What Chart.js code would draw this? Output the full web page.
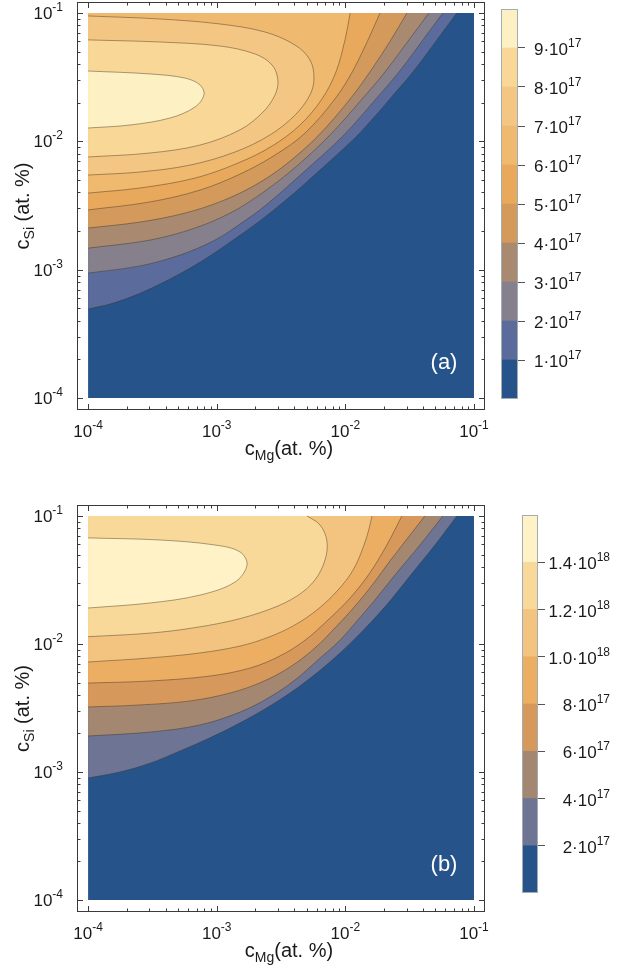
<!DOCTYPE html>
<html><head><meta charset="utf-8">
<script src="https://cdn.jsdelivr.net/npm/chart.js@4.4.1/dist/chart.umd.min.js"></script>
<style>
html,body{margin:0;padding:0;background:#fff;}
#wrap{position:relative;width:617px;height:969px;overflow:hidden;}
canvas{position:absolute;}
</style></head><body>
<div id="wrap">
<canvas id="pa" width="617" height="470" style="left:0;top:0"></canvas>
<canvas id="ca" width="127" height="420" style="left:490px;top:0"></canvas>
<canvas id="pb" width="617" height="469" style="left:0;top:503px"></canvas>
<canvas id="cb" width="107" height="420" style="left:510px;top:503px"></canvas>
</div>
<script>
// ---------- axis ticks ----------
const majorTicks = [1e-4, 1e-3, 1e-2, 1e-1];
const majorTickBase = '10';
const majorTickExp = ['-4', '-3', '-2', '-1'];
const minorMantissas = [2, 3, 4, 5, 6, 7, 8, 9];

// ---------- panel (a): levels in units of 1e17 ----------
const levelsA = [1, 2, 3, 4, 5, 6, 7, 8, 9];
const levelMantA = ['1·10', '2·10', '3·10', '4·10', '5·10', '6·10', '7·10', '8·10', '9·10'];
const levelExpA = ['17', '17', '17', '17', '17', '17', '17', '17', '17'];
const bandColorsA = ['#26548a', '#5b6c9c', '#85808c', '#a98a70', '#d39a5c', '#e9a95c', '#efb96f', '#f4c683', '#f8d797', '#fdf0c3'];
// contour lines [cMg, cSi] (at. %), ordered by cSi
const a1 = [[1e-4,4.93e-4],[1.48e-4,5.39e-4],[2.24e-4,6.22e-4],[3.50e-4,7.59e-4],[5.47e-4,9.58e-4],[8.55e-4,1.25e-3],[1.34e-3,1.70e-3],[2.06e-3,2.31e-3],[3.10e-3,3.19e-3],[4.44e-3,4.33e-3],[6.35e-3,5.97e-3],[9.08e-3,8.26e-3],[1.23e-2,1.10e-2],[1.70e-2,1.57e-2],[2.22e-2,2.14e-2],[3.35e-2,3.47e-2],[5.15e-2,6.17e-2],[7.36e-2,0.1]];
const a2 = [[1e-4,9.40e-4],[2.54e-4,1.07e-3],[5.19e-4,1.30e-3],[9.70e-4,1.70e-3],[1.60e-3,2.35e-3],[2.42e-3,3.19e-3],[4.94e-3,5.97e-3],[9.57e-3,1.10e-2],[1.73e-2,2.14e-2],[2.61e-2,3.47e-2],[4.01e-2,6.17e-2],[5.73e-2,0.1]];
const a3 = [[1e-4,1.47e-3],[3.03e-4,1.70e-3],[6.78e-4,2.11e-3],[1.27e-3,2.76e-3],[2.09e-3,3.75e-3],[3.85e-3,5.97e-3],[7.46e-3,1.10e-2],[1.35e-2,2.14e-2],[2.03e-2,3.47e-2],[3.12e-2,6.17e-2],[4.46e-2,0.1]];
const a4 = [[1e-4,2.11e-3],[2.54e-4,2.35e-3],[5.67e-4,2.76e-3],[1.10e-3,3.43e-3],[1.99e-3,4.56e-3],[3.40e-3,6.53e-3],[6.12e-3,1.10e-2],[1.09e-2,2.14e-2],[1.55e-2,3.47e-2],[2.26e-2,6.17e-2],[3.01e-2,0.1]];
const a5 = [[1e-4,2.92e-3],[3.03e-4,3.37e-3],[7.41e-4,4.17e-3],[1.52e-3,5.56e-3],[2.84e-3,7.82e-3],[4.86e-3,1.16e-2],[8.30e-3,2.14e-2],[1.13e-2,3.47e-2],[1.50e-2,6.17e-2],[1.86e-2,0.1]];
const a6 = [[1e-4,3.95e-3],[2.54e-4,4.33e-3],[6.78e-4,5.17e-3],[1.47e-3,6.78e-3],[2.69e-3,9.18e-3],[4.44e-3,1.34e-2],[6.58e-3,2.14e-2],[8.45e-3,3.47e-2],[9.93e-3,6.17e-2],[1.09e-2,0.1]];
const a7 = [[1e-4,5.46e-3],[2.54e-4,5.77e-3],[6.21e-4,6.53e-3],[1.39e-3,8.26e-3],[2.59e-3,1.12e-2],[4.06e-3,1.60e-2],[5.31e-3,2.30e-2],[5.70e-3,3.11e-2],[5.31e-3,4.31e-2],[4.06e-3,5.63e-2],[2.37e-3,7.11e-2],[1.06e-3,8.21e-2],[3.62e-4,8.98e-2],[1e-4,9.48e-2]];
const a8 = [[1e-4,7.55e-3],[3.03e-4,8.11e-3],[7.41e-4,9.35e-3],[1.52e-3,1.23e-2],[2.29e-3,1.69e-2],[2.84e-3,2.30e-2],[2.99e-3,3.01e-2],[2.69e-3,3.94e-2],[1.99e-3,4.79e-2],[1.06e-3,5.53e-2],[3.62e-4,5.94e-2],[1e-4,6.17e-2]];
const a9 = [[1e-4,1.27e-2],[2.12e-4,1.34e-2],[4.34e-4,1.52e-2],[6.78e-4,1.85e-2],[7.96e-4,2.30e-2],[7.41e-4,2.75e-2],[5.67e-4,3.11e-2],[3.03e-4,3.35e-2],[1e-4,3.53e-2]];

// ---------- panel (b): levels in units of 1e17 ----------
const levelsB = [2, 4, 6, 8, 10, 12, 14];
const levelMantB = ['2·10', '4·10', '6·10', '8·10', '1.0·10', '1.2·10', '1.4·10'];
const levelExpB = ['17', '17', '17', '17', '18', '18', '18'];
const bandColorsB = ['#26548a', '#6d7494', '#a48770', '#d6985b', '#ecae63', '#f3c480', '#f8d999', '#fef2c6'];
const b1 = [[1e-4,8.98e-4],[1.77e-4,1.0e-3],[3.03e-4,1.17e-3],[5.19e-4,1.46e-3],[8.87e-4,1.85e-3],[1.52e-3,2.42e-3],[2.59e-3,3.28e-3],[4.44e-3,4.70e-3],[7.59e-3,7.23e-3],[1.23e-2,1.14e-2],[2.03e-2,1.95e-2],[3.18e-2,3.40e-2],[4.97e-2,5.93e-2],[7.36e-2,0.1]];
const b2 = [[1e-4,1.91e-3],[3.03e-4,2.05e-3],[7.41e-4,2.33e-3],[1.52e-3,2.94e-3],[2.59e-3,3.85e-3],[4.06e-3,5.23e-3],[6.12e-3,7.50e-3],[9.08e-3,1.07e-2],[1.25e-2,1.54e-2],[1.70e-2,2.21e-2],[2.43e-2,3.46e-2],[3.80e-2,5.93e-2],[5.73e-2,0.1]];
const b3 = [[1e-4,3.22e-3],[2.54e-4,3.34e-3],[6.21e-4,3.59e-3],[1.27e-3,4.14e-3],[2.25e-3,5.05e-3],[3.72e-3,6.61e-3],[5.80e-3,9.31e-3],[8.45e-3,1.36e-2],[1.19e-2,1.98e-2],[1.64e-2,2.94e-2],[2.22e-2,4.45e-2],[3.06e-2,6.74e-2],[4.15e-2,0.1]];
const b4 = [[1e-4,4.95e-3],[3.03e-4,5.14e-3],[8.87e-4,5.62e-3],[1.82e-3,6.49e-3],[3.10e-3,8.06e-3],[4.86e-3,1.07e-2],[7.33e-3,1.54e-2],[1.09e-2,2.29e-2],[1.55e-2,3.59e-2],[2.10e-2,5.93e-2],[2.75e-2,0.1]];
const b5 = [[1e-4,7.23e-3],[3.03e-4,7.78e-3],[7.41e-4,8.51e-3],[1.52e-3,9.64e-3],[2.59e-3,1.14e-2],[4.06e-3,1.41e-2],[6.12e-3,1.87e-2],[8.77e-3,2.64e-2],[1.15e-2,3.79e-2],[1.37e-2,5.62e-2],[1.52e-2,7.78e-2],[1.61e-2,0.1]];
const b6 = [[1e-4,1.14e-2],[2.54e-4,1.20e-2],[5.19e-4,1.29e-2],[1.27e-3,1.51e-2],[2.59e-3,1.87e-2],[4.21e-3,2.37e-2],[5.80e-3,3.16e-2],[6.95e-3,4.53e-2],[7.19e-3,6.38e-2],[6.35e-3,8.51e-2],[5.03e-3,0.1]];
const b7 = [[1e-4,1.91e-2],[3.03e-4,2.09e-2],[7.41e-4,2.41e-2],[1.39e-3,3.05e-2],[1.72e-3,4.14e-2],[1.52e-3,5.23e-2],[9.70e-4,5.93e-2],[3.62e-4,6.49e-2],[1e-4,6.74e-2]];

// whole computed domain, painted with the lowest band
const domainEdge = [[0.1,1e-4],[0.1,0.1]];

// ---------- style ----------
const FONT = '"Liberation Sans", Arial, Helvetica, sans-serif';
const LINE = 'rgba(60,45,30,0.55)';
const TXT = '#1a1a1a';
const AX_MIN = 8.2e-5, AX_MAX = 0.1218, AY_MIN = 8.06e-5, AY_MAX = 0.1218;

const toPts = arr => arr.map(([x, y]) => ({x, y}));

function supText(ctx, base, exp, x, y, align, big, small, rise) {
  ctx.font = big + 'px ' + FONT; const wb = ctx.measureText(base).width;
  ctx.font = small + 'px ' + FONT; const we = ctx.measureText(exp).width;
  const w = wb + we;
  const x0 = align === 'right' ? x - w : align === 'center' ? x - w / 2 : x;
  ctx.textAlign = 'left'; ctx.textBaseline = 'alphabetic';
  ctx.font = big + 'px ' + FONT; ctx.fillText(base, x0, y);
  ctx.font = small + 'px ' + FONT; ctx.fillText(exp, x0 + wb, y - rise);
}

function rich(ctx, parts, cx, cy) {
  let w = 0;
  const big = '20px ' + FONT, small = '14px ' + FONT;
  parts.forEach(p => { ctx.font = p[1] ? small : big; p.w = ctx.measureText(p[0]).width; w += p.w; });
  let x = cx - w / 2;
  ctx.textAlign = 'left'; ctx.textBaseline = 'alphabetic';
  parts.forEach(p => { ctx.font = p[1] ? small : big; ctx.fillText(p[0], x, cy + (p[1] ? 5 : 0)); x += p.w; });
}

const framePlugin = {
  id: 'frame',
  afterDatasetsDraw(chart) {
    const {ctx, chartArea: a, scales: {x, y}} = chart;
    ctx.save();
    ctx.strokeStyle = '#3a3a3a';
    ctx.lineWidth = 1;
    ctx.strokeRect(Math.round(a.left) + 0.5, Math.round(a.top) + 0.5, Math.round(a.width) - 1, Math.round(a.height) - 1);
    const marks = [];
    majorTicks.forEach(v => marks.push([v, 6]));
    majorTicks.slice(0, -1).forEach(v => minorMantissas.forEach(m => marks.push([v * m, 3.5])));
    ctx.beginPath();
    marks.forEach(([v, len]) => {
      const px = Math.round(x.getPixelForValue(v)) + 0.5;
      ctx.moveTo(px, a.bottom); ctx.lineTo(px, a.bottom - len);
      ctx.moveTo(px, a.top); ctx.lineTo(px, a.top + len);
      const py = Math.round(y.getPixelForValue(v)) + 0.5;
      ctx.moveTo(a.left, py); ctx.lineTo(a.left + len, py);
      ctx.moveTo(a.right, py); ctx.lineTo(a.right - len, py);
    });
    ctx.stroke();
    ctx.fillStyle = TXT;
    majorTicks.forEach((v, i) => {
      supText(ctx, majorTickBase, majorTickExp[i], x.getPixelForValue(v), a.bottom + 27, 'center', 17, 12, 8);
      supText(ctx, majorTickBase, majorTickExp[i], a.left - 14, y.getPixelForValue(v) + 6, 'right', 17, 12, 8);
    });
    ctx.restore();
  }
};

const textPlugin = {
  id: 'axisText',
  afterDraw(chart, args, o) {
    const {ctx, chartArea: a} = chart;
    ctx.save();
    ctx.fillStyle = TXT;
    rich(ctx, [['c', 0], ['Mg', 1], ['(at. %)', 0]], (a.left + a.right) / 2 + 8, a.bottom + 45);
    ctx.translate(29, (a.top + a.bottom) / 2);
    ctx.rotate(-Math.PI / 2);
    rich(ctx, [['c', 0], ['Si', 1], [' (at. %)', 0]], 0, 0);
    ctx.restore();
    ctx.save();
    ctx.fillStyle = '#ffffff';
    ctx.font = '22px ' + FONT;
    ctx.textAlign = 'center'; ctx.textBaseline = 'middle';
    ctx.fillText(o.label, a.right - 41, a.bottom - 47);
    ctx.restore();
  }
};

function contourChart(id, lines, colors, label) {
  const datasets = [{
    data: toPts(domainEdge), fill: {value: 1e-4}, backgroundColor: colors[0],
    borderWidth: 0, pointRadius: 0, order: 100
  }];
  lines.forEach((ln, i) => datasets.push({
    data: toPts(ln), fill: {value: 1e-4}, backgroundColor: colors[i + 1],
    borderColor: LINE, borderWidth: 0.8, pointRadius: 0, tension: 0.35, order: 50 - i
  }));
  return new Chart(document.getElementById(id), {
    type: 'line',
    data: {datasets},
    options: {
      indexAxis: 'y', responsive: false, animation: false, events: [],
      layout: {padding: {left: 0, top: 2, right: 132, bottom: 0}},
      plugins: {legend: {display: false}, tooltip: {enabled: false}, axisText: {label}},
      scales: {
        x: {
          type: 'logarithmic', min: AX_MIN, max: AX_MAX,
          afterBuildTicks: s => { s.ticks = majorTicks.map(v => ({value: v})); },
          afterFit: s => { s.height = 60; s.paddingLeft = 0; s.paddingRight = 0; },
          ticks: {display: false},
          grid: {display: false, drawTicks: false}, border: {display: false}
        },
        y: {
          type: 'logarithmic', min: AY_MIN, max: AY_MAX,
          afterBuildTicks: s => { s.ticks = majorTicks.map(v => ({value: v})); },
          afterFit: s => { s.width = 77; s.paddingTop = 0; s.paddingBottom = 0; },
          ticks: {display: false},
          grid: {display: false, drawTicks: false}, border: {display: false}
        }
      }
    },
    plugins: [framePlugin, textPlugin]
  });
}

const barPlugin = {
  id: 'barDeco',
  afterDraw(chart, args, o) {
    const {ctx, chartArea: a, scales: {y}} = chart;
    ctx.save();
    ctx.strokeStyle = '#a3abb3'; ctx.lineWidth = 1;
    ctx.strokeRect(Math.round(a.left) + 0.5, Math.round(a.top) + 0.5, Math.round(a.width) - 1, Math.round(a.height) - 1);
    ctx.fillStyle = TXT;
    o.levels.forEach((v, i) => {
      supText(ctx, o.mant[i], o.exp[i], o.align === 'right' ? a.right + o.right : a.right + o.left,
              y.getPixelForValue(v) + 7, o.align, 17, 12, 8);
    });
    ctx.restore();
  }
};

function colorbar(id, colors, step, levels, mant, exp, pad, axisW, deco) {
  const top = step * colors.length;
  return new Chart(document.getElementById(id), {
    type: 'bar',
    data: {labels: [''], datasets: colors.map(c => ({data: [step], backgroundColor: c, borderWidth: 0, barPercentage: 1, categoryPercentage: 1}))},
    options: {
      responsive: false, animation: false, events: [],
      layout: {padding: pad},
      plugins: {legend: {display: false}, tooltip: {enabled: false}, barDeco: Object.assign({levels, mant, exp}, deco)},
      scales: {
        x: {display: false, stacked: true},
        y: {
          stacked: true, position: 'right', min: 0, max: top, z: 1,
          afterBuildTicks: s => { s.ticks = [0, ...levels, top].map(v => ({value: v})); },
          afterFit: s => { s.width = axisW; s.paddingTop = 0; s.paddingBottom = 0; },
          ticks: {display: false},
          grid: {
            color: c => levels.includes(c.tick && c.tick.value) ? 'rgba(50,40,30,0.55)' : 'rgba(0,0,0,0)',
            tickColor: c => levels.includes(c.tick && c.tick.value) ? '#555' : 'rgba(0,0,0,0)',
            tickLength: 7, lineWidth: 1
          },
          border: {display: false}
        }
      }
    },
    plugins: [barPlugin]
  });
}

contourChart('pa', [a1, a2, a3, a4, a5, a6, a7, a8, a9], bandColorsA, '(a)');
contourChart('pb', [b1, b2, b3, b4, b5, b6, b7], bandColorsB, '(b)');
colorbar('ca', bandColorsA, 1, levelsA, levelMantA, levelExpA, {left: 11, top: 9, bottom: 21, right: 0}, 99, {align: 'left', left: 16});
colorbar('cb', bandColorsB, 2, levelsB, levelMantB, levelExpB, {left: 12, top: 12, bottom: 30, right: 0}, 79, {align: 'right', right: 72});
</script>
</body></html>
